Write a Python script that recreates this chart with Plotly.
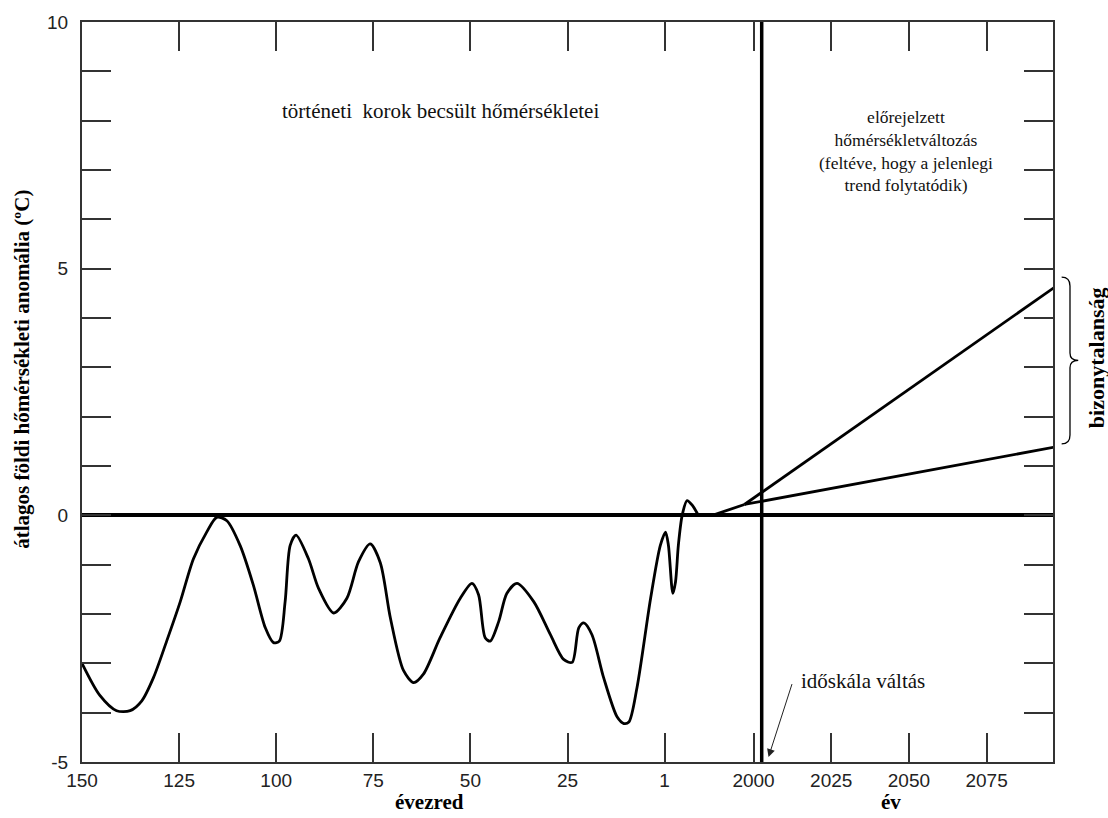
import plotly.graph_objects as go

# ---- data -------------------------------------------------------------
# Estimated global temperature anomaly (°C), thousands of years before present
hist_ky = [150, 145.4, 141.1, 137.6, 134.6, 131.6, 128.2, 124.7, 121.3, 117.9,
           115.3, 112.7, 109.3, 105.9, 102.8, 100.7, 99.2, 97.7, 96.4, 94.9,
           91.7, 89.1, 85.2, 81.8, 78.8, 75.8, 73.2, 70.6, 67.2, 64.6,
           62.1, 57.8, 52.6, 49.6, 47.9, 46.2, 44.9, 42.7, 40.6, 38.0,
           33.7, 29.4, 26.0, 23.8, 22.1, 20.8, 18.7, 15.7, 12.2, 10.5,
           9.2, 7.1, 3.6, 1.1]
hist_temp = [-3.0, -3.65, -3.96, -3.96, -3.76, -3.29, -2.55, -1.75, -0.88, -0.34,
             -0.04, -0.11, -0.61, -1.41, -2.28, -2.58, -2.55, -1.75, -0.61, -0.40,
             -0.88, -1.48, -1.98, -1.68, -0.94, -0.58, -0.96, -2.08, -3.15, -3.39,
             -3.22, -2.48, -1.68, -1.38, -1.61, -2.48, -2.55, -2.15, -1.58, -1.38,
             -1.75, -2.42, -2.92, -2.98, -2.28, -2.18, -2.42, -3.29, -4.09, -4.22,
             -4.19, -3.49, -1.68, -0.61]

# Last two millennia (years AD)
recent_year = [20, 85, 185, 245, 310, 395, 505, 625, 760]
recent_temp = [-0.34, -0.6, -1.58, -1.35, -0.6, 0.0, 0.30, 0.2, 0.0]

# Recent warming trend leading into the projections
trend_year = [760, 1075, 1795]
trend_temp = [0.0, 0.0, 0.22]

# Projected change (upper / lower estimate)
proj_year = [1795, 2100]
proj_high = [0.22, 4.76]
proj_low = [0.22, 1.42]

# Axis ticks
ky_ticks = [150, 125, 100, 75, 50, 25, 0]
ky_tick_text = ["150", "125", "100", "75", "50", "25", "1"]
year_ticks = [2000, 2025, 2050, 2075]
year_tick_text = ["2000", "2025", "2050", "2075"]
y_ticks = list(range(-5, 11))
y_tick_text = [str(v) if v % 5 == 0 else "" for v in y_ticks]

# ---- composite time axis -----------------------------------------------
KY_SPAN = 25.0          # thousand years per axis unit
P_YEAR1 = 6.0           # axis position of year 1
P_2000 = 6.916          # axis position of year 2000
PER_YEAR_RIGHT = 0.032  # axis units per year after 2000
SCALE_BREAK = 7.0       # where the time scale switches


def ky_pos(ky):
    return (150.0 - ky) / KY_SPAN


def year_pos(y):
    if y <= 2000:
        return P_YEAR1 + (P_2000 - P_YEAR1) * y / 2000.0
    return P_2000 + (y - 2000) * PER_YEAR_RIGHT


hist_x = [ky_pos(k) for k in hist_ky] + [year_pos(y) for y in recent_year]
hist_y = hist_temp + recent_temp

SERIF = "Liberation Serif, Times New Roman, serif"
TICKFONT = dict(family="Liberation Sans, Arial, sans-serif", size=19, color="#222")

fig = go.Figure()
fig.add_trace(go.Scatter(x=hist_x, y=hist_y, mode="lines",
                         line=dict(color="black", width=2.8, shape="spline",
                                   smoothing=0.8),
                         hoverinfo="skip", showlegend=False))
fig.add_trace(go.Scatter(x=[year_pos(y) for y in trend_year], y=trend_temp,
                         mode="lines", line=dict(color="black", width=2.8),
                         hoverinfo="skip", showlegend=False))
for vals in (proj_high, proj_low):
    fig.add_trace(go.Scatter(x=[year_pos(y) for y in proj_year], y=vals,
                             mode="lines", line=dict(color="black", width=2.8),
                             hoverinfo="skip", showlegend=False))

tickvals_x = [ky_pos(k) for k in ky_ticks] + [year_pos(y) for y in year_ticks]
ticktext_x = ky_tick_text + year_tick_text

axis_common = dict(showgrid=False, showline=True, linecolor="#333", linewidth=2,
                   ticks="inside", ticklen=29, tickwidth=1.6, tickcolor="#333",
                   mirror="allticks", tickfont=TICKFONT)

fig.update_xaxes(range=[0, 10], tickmode="array", tickvals=tickvals_x,
                 ticktext=ticktext_x, zeroline=False, ticklabelstandoff=0,
                 **axis_common)
fig.update_yaxes(range=[-5, 10], tickmode="array", tickvals=y_ticks,
                 ticktext=y_tick_text, zeroline=True, zerolinecolor="black",
                 zerolinewidth=4, ticklabelstandoff=8, **axis_common)

# scale-change separator
fig.add_shape(type="line", x0=SCALE_BREAK, x1=SCALE_BREAK, y0=-5, y1=10,
              xref="x", yref="y", line=dict(color="black", width=3.5))


# brace spanning the projection range, drawn just right of the plot
def py(v):
    return (v + 5) / 15.0


top, bot = proj_high[-1] + 0.07, proj_low[-1] + 0.03
mid = (top + bot) / 2
bx0, bx1, bx2 = 1.0089, 1.0175, 1.0260
fig.add_shape(type="path", xref="paper", yref="paper",
              path=(f"M {bx0},{py(top)} Q {bx1},{py(top)} {bx1},{py(top) - 0.012} "
                    f"L {bx1},{py(mid) + 0.010} Q {bx1},{py(mid)} {bx2},{py(mid)} "
                    f"Q {bx1},{py(mid)} {bx1},{py(mid) - 0.010} "
                    f"L {bx1},{py(bot) + 0.012} Q {bx1},{py(bot)} {bx0},{py(bot)}"),
              line=dict(color="black", width=1.3))

ann = [
    dict(text="<b>átlagos földi hőmérsékleti anomália (ºC)</b>", xref="paper",
         yref="paper", x=-0.062, y=0.531, textangle=-90, showarrow=False,
         font=dict(family=SERIF, size=21, color="black"), xanchor="center",
         yanchor="middle"),
    dict(text="<b>évezred</b>", xref="paper", yref="paper", x=0.358, y=-0.0535,
         xanchor="center", yanchor="middle", showarrow=False,
         font=dict(family=SERIF, size=21, color="black")),
    dict(text="<b>év</b>", xref="paper", yref="paper", x=0.833, y=-0.0535,
         xanchor="center", yanchor="middle", showarrow=False,
         font=dict(family=SERIF, size=21, color="black")),
    dict(text="történeti\u00a0 korok becsült hőmérsékletei", xref="x", yref="y",
         x=2.04, y=8.2, xanchor="left", yanchor="middle", showarrow=False,
         font=dict(family=SERIF, size=21, color="#111")),
    dict(text="előrejelzett<br>hőmérsékletváltozás<br>(feltéve, hogy a jelenlegi<br>"
              "trend folytatódik)", xref="x", yref="y", x=8.49, y=7.38,
         xanchor="center", yanchor="middle", showarrow=False, align="center",
         font=dict(family=SERIF, size=17.5, color="#111")),
    dict(text="<b>bizonytalanság</b>", xref="paper", yref="y", x=1.0455,
         y=(proj_high[-1] + proj_low[-1]) / 2 + 0.1, textangle=-90,
         xanchor="center", yanchor="middle", showarrow=False,
         font=dict(family=SERIF, size=22, color="black")),
    dict(text="", xref="x", yref="y", x=7.07, y=-4.9, axref="x", ayref="y",
         ax=7.317, ay=-3.39, showarrow=True, arrowhead=2, arrowsize=1.6,
         arrowwidth=1, arrowcolor="#222"),
    dict(text="időskála váltás", xref="x", yref="y", x=7.38, y=-3.36,
         xanchor="left", yanchor="middle", showarrow=False,
         font=dict(family=SERIF, size=21, color="#111")),
]

fig.update_layout(width=1108, height=818, margin=dict(l=82, r=55, t=15, b=56),
                  paper_bgcolor="white", plot_bgcolor="white",
                  annotations=ann, showlegend=False)

fig.write_html("out.html")
